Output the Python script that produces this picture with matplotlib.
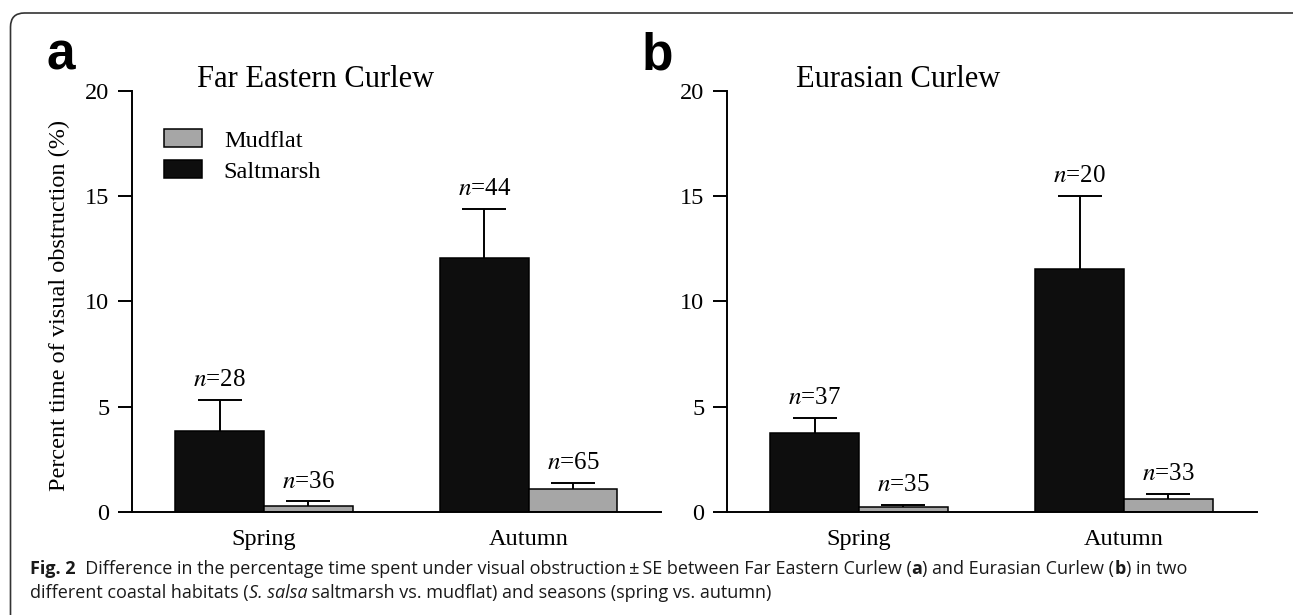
import matplotlib
matplotlib.use("Agg")
import matplotlib.pyplot as plt
import numpy as np
from matplotlib.patches import FancyBboxPatch
from matplotlib.transforms import IdentityTransform

# values
seasons = ["Spring", "Autumn"]
fec_salt = [3.86, 12.07]
fec_salt_se = [1.46, 2.31]
fec_mud = [0.28, 1.08]
fec_mud_se = [0.22, 0.31]
fec_salt_n = [28, 44]
fec_mud_n = [36, 65]

eur_salt = [3.76, 11.52]
eur_salt_se = [0.70, 3.49]
eur_mud = [0.22, 0.60]
eur_mud_se = [0.13, 0.25]
eur_salt_n = [37, 20]
eur_mud_n = [35, 33]

plt.rcParams["font.family"] = ["Liberation Serif", "DejaVu Serif"]
plt.rcParams["mathtext.fontset"] = "stix"

W, H = 1293, 615
fig = plt.figure(figsize=(W / 100, H / 100), dpi=100)

salt_col = "#0e0e0e"
mud_col = "#a6a6a6"
bw = 0.335
lw = 1.4


def px(x, y):
    return x / W, 1 - y / H


def panel(ax, salt, salt_se, mud, mud_se, salt_n, mud_n):
    x = np.arange(len(seasons))
    ax.bar(x - bw / 2, salt, bw, color=salt_col, edgecolor="black", linewidth=1.1,
           label="Saltmarsh", zorder=2)
    ax.bar(x + bw / 2, mud, bw, color=mud_col, edgecolor="black", linewidth=1.1,
           label="Mudflat", zorder=2)
    for xs, v, se, nn in [(x - bw / 2, salt, salt_se, salt_n), (x + bw / 2, mud, mud_se, mud_n)]:
        eb = ax.errorbar(xs, v, yerr=[np.zeros(len(se)), se], fmt="none", ecolor="black",
                         elinewidth=lw, capsize=16, capthick=lw, zorder=3)
        eb[1][0].set_visible(False)
        for xi, vi, si, ni in zip(xs, v, se, nn):
            ax.annotate(r"$\mathit{n}$=%d" % ni, (xi, vi + si), xytext=(0, 10),
                        textcoords="offset points", ha="center", va="baseline",
                        fontsize=18)
    ax.set_xlim(-0.5, 1.5)
    ax.set_ylim(0, 20)
    ax.set_yticks([0, 5, 10, 15, 20])
    ax.set_xticks(x)
    ax.set_xticklabels(seasons)
    ax.tick_params(axis="x", length=0, pad=12, labelsize=17.5)
    ax.tick_params(axis="y", length=10, width=lw, pad=6, labelsize=17.5)
    for s in ["top", "right"]:
        ax.spines[s].set_visible(False)
    for s in ["left", "bottom"]:
        ax.spines[s].set_linewidth(lw)


axa = fig.add_axes([131.7 / W, 1 - 512 / H, 529.3 / W, 421.4 / H])
axb = fig.add_axes([726.5 / W, 1 - 512 / H, 530 / W, 421.4 / H])
panel(axa, fec_salt, fec_salt_se, fec_mud, fec_mud_se, fec_salt_n, fec_mud_n)
panel(axb, eur_salt, eur_salt_se, eur_mud, eur_mud_se, eur_salt_n, eur_mud_n)

# legend only in panel a, mudflat first
h, l = axa.get_legend_handles_labels()
axa.legend([h[1], h[0]], [l[1], l[0]], loc="upper left", bbox_to_anchor=px(164, 129),
           bbox_transform=fig.transFigure, frameon=False, fontsize=17.5, borderpad=0,
           borderaxespad=0, handlelength=1.56, handleheight=0.78, handletextpad=0.9,
           labelspacing=0.35)

fig.text(*px(59, 305), "Percent time of visual obstruction (%)", rotation=90,
         ha="center", va="center", fontsize=17.5)

fig.text(*px(197, 87), "Far Eastern Curlew", fontsize=22, va="baseline")
fig.text(*px(796, 87), "Eurasian Curlew", fontsize=22, va="baseline")
fig.text(*px(47, 69), "a", fontsize=37, fontweight="bold", family="Liberation Sans",
         va="baseline")
fig.text(*px(642, 70), "b", fontsize=37, fontweight="bold", family="Liberation Sans",
         va="baseline")

# rounded frame
frame = FancyBboxPatch((10.5, -30), 1300, 602 + 30, boxstyle="round,pad=0,rounding_size=14",
                       transform=IdentityTransform(), facecolor="none", edgecolor="#333333",
                       linewidth=1.2)
fig.add_artist(frame)

# caption with mixed weights
cap_fs = 13
renderer = fig.canvas.get_renderer()


def runs(x, y, parts):
    for s, w, st in parts:
        t = fig.text(x, H - y, s, fontsize=cap_fs, fontweight=w, style=st,
                     family="Open Sans", color="#1a1a1a", va="baseline",
                     transform=IdentityTransform())
        x += t.get_window_extent(renderer).width


runs(30, 574, [("Fig. 2", "bold", "normal"),
               ("  Difference in the percentage time spent under visual obstruction\u2009\u00b1\u2009SE between Far Eastern Curlew (", "normal", "normal"),
               ("a", "bold", "normal"),
               (") and Eurasian Curlew (", "normal", "normal"),
               ("b", "bold", "normal"),
               (") in two", "normal", "normal")])
runs(30, 598, [("different coastal habitats (", "normal", "normal"),
               ("S. salsa", "normal", "italic"),
               (" saltmarsh vs. mudflat) and seasons (spring vs. autumn)", "normal", "normal")])

fig.savefig("out.png", dpi=100)
